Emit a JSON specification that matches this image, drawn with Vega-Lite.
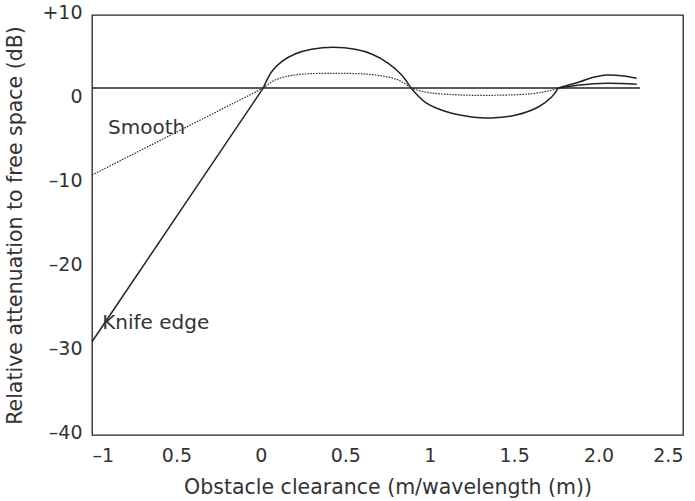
{
  "$schema": "https://vega.github.io/schema/vega-lite/v6.json",
  "width": 591,
  "height": 420,
  "autosize": {"type": "none"},
  "padding": {"left": 92, "top": 15, "right": 12, "bottom": 66},
  "background": "white",
  "config": {
    "view": {"stroke": "#222", "strokeWidth": 1.3},
    "axis": {
      "grid": false, "ticks": false, "domain": false,
      "labelFont": "DejaVu Sans", "labelFontSize": 19, "labelColor": "#333",
      "titleFont": "DejaVu Sans", "titleFontSize": 20.5, "titleColor": "#333", "titleFontWeight": "normal"
    }
  },
  "datasets": {
    "lines": [
      {"curve": "free space", "segment": 1, "dash": "solid", "x": -1, "y": 1.3},
      {"curve": "free space", "segment": 1, "dash": "solid", "x": 2.245, "y": 1.3},

      {"curve": "knife", "segment": 1, "dash": "solid", "x": -1, "y": -28.9},
      {"curve": "knife", "segment": 1, "dash": "solid", "x": 0.014, "y": 1.3},

      {"curve": "knife", "segment": 2, "dash": "solid", "x": 0.014, "y": 1.3},
      {"curve": "knife", "segment": 2, "dash": "solid", "x": 0.064, "y": 3.25},
      {"curve": "knife", "segment": 2, "dash": "solid", "x": 0.123, "y": 4.44},
      {"curve": "knife", "segment": 2, "dash": "solid", "x": 0.202, "y": 5.36},
      {"curve": "knife", "segment": 2, "dash": "solid", "x": 0.301, "y": 5.92},
      {"curve": "knife", "segment": 2, "dash": "solid", "x": 0.429, "y": 6.15},
      {"curve": "knife", "segment": 2, "dash": "solid", "x": 0.558, "y": 5.92},
      {"curve": "knife", "segment": 2, "dash": "solid", "x": 0.656, "y": 5.36},
      {"curve": "knife", "segment": 2, "dash": "solid", "x": 0.755, "y": 4.25},
      {"curve": "knife", "segment": 2, "dash": "solid", "x": 0.834, "y": 2.86},
      {"curve": "knife", "segment": 2, "dash": "solid", "x": 0.889, "y": 1.3},

      {"curve": "knife", "segment": 3, "dash": "solid", "x": 0.889, "y": 1.3},
      {"curve": "knife", "segment": 3, "dash": "solid", "x": 0.972, "y": -0.36},
      {"curve": "knife", "segment": 3, "dash": "solid", "x": 1.091, "y": -1.46},
      {"curve": "knife", "segment": 3, "dash": "solid", "x": 1.249, "y": -2.14},
      {"curve": "knife", "segment": 3, "dash": "solid", "x": 1.367, "y": -2.26},
      {"curve": "knife", "segment": 3, "dash": "solid", "x": 1.505, "y": -1.94},
      {"curve": "knife", "segment": 3, "dash": "solid", "x": 1.643, "y": -0.95},
      {"curve": "knife", "segment": 3, "dash": "solid", "x": 1.722, "y": 0.24},
      {"curve": "knife", "segment": 3, "dash": "solid", "x": 1.761, "y": 1.3},

      {"curve": "knife", "segment": 4, "dash": "solid", "x": 1.761, "y": 1.3},
      {"curve": "knife", "segment": 4, "dash": "solid", "x": 1.89, "y": 2.06},
      {"curve": "knife", "segment": 4, "dash": "solid", "x": 1.969, "y": 2.58},
      {"curve": "knife", "segment": 4, "dash": "solid", "x": 2.048, "y": 2.86},
      {"curve": "knife", "segment": 4, "dash": "solid", "x": 2.146, "y": 2.74},
      {"curve": "knife", "segment": 4, "dash": "solid", "x": 2.226, "y": 2.46},

      {"curve": "smooth", "segment": 1, "dash": "dotted", "x": -1, "y": -9.05},
      {"curve": "smooth", "segment": 1, "dash": "dotted", "x": 0.014, "y": 1.3},

      {"curve": "smooth", "segment": 2, "dash": "dotted", "x": 0.014, "y": 1.3},
      {"curve": "smooth", "segment": 2, "dash": "dotted", "x": 0.084, "y": 2.26},
      {"curve": "smooth", "segment": 2, "dash": "dotted", "x": 0.202, "y": 2.86},
      {"curve": "smooth", "segment": 2, "dash": "dotted", "x": 0.439, "y": 3.06},
      {"curve": "smooth", "segment": 2, "dash": "dotted", "x": 0.676, "y": 2.86},
      {"curve": "smooth", "segment": 2, "dash": "dotted", "x": 0.814, "y": 2.26},
      {"curve": "smooth", "segment": 2, "dash": "dotted", "x": 0.889, "y": 1.3},

      {"curve": "smooth", "segment": 3, "dash": "dotted", "x": 0.889, "y": 1.3},
      {"curve": "smooth", "segment": 3, "dash": "dotted", "x": 0.972, "y": 0.83},
      {"curve": "smooth", "segment": 3, "dash": "dotted", "x": 1.15, "y": 0.51},
      {"curve": "smooth", "segment": 3, "dash": "dotted", "x": 1.367, "y": 0.44},
      {"curve": "smooth", "segment": 3, "dash": "dotted", "x": 1.604, "y": 0.63},
      {"curve": "smooth", "segment": 3, "dash": "dotted", "x": 1.722, "y": 1.04},
      {"curve": "smooth", "segment": 3, "dash": "dotted", "x": 1.761, "y": 1.3},

      {"curve": "smooth", "segment": 4, "dash": "solid", "x": 1.761, "y": 1.3},
      {"curve": "smooth", "segment": 4, "dash": "solid", "x": 1.89, "y": 1.67},
      {"curve": "smooth", "segment": 4, "dash": "solid", "x": 2.048, "y": 1.87},
      {"curve": "smooth", "segment": 4, "dash": "solid", "x": 2.226, "y": 1.75}
    ],
    "labels": [
      {"label": "Smooth", "x": -0.905, "y": -3.45},
      {"label": "Knife edge", "x": -0.94, "y": -26.67}
    ]
  },
  "layer": [
    {
      "data": {"name": "lines"},
      "transform": [{"filter": "datum.dash == 'solid'"}],
      "mark": {"type": "line", "interpolate": "catmull-rom", "color": "#222", "strokeWidth": 1.5},
      "encoding": {
        "x": {
          "field": "x", "type": "quantitative",
          "scale": {"domain": [-1, 2.5], "nice": false, "zero": false},
          "axis": {
            "values": [-1, -0.5, 0, 0.5, 1, 1.5, 2, 2.5],
            "labelExpr": "datum.value == -1 ? '–1' : datum.value == -0.5 ? '0.5' : datum.value == 2 ? '2.0' : toString(datum.value)",
            "labelPadding": 11,
            "title": "Obstacle clearance (m/wavelength (m))",
            "titlePadding": 12
          }
        },
        "y": {
          "field": "y", "type": "quantitative",
          "scale": {"domain": [-40, 10], "nice": false, "zero": false},
          "axis": {
            "values": [-40, -30, -20, -10, 0, 10],
            "labelExpr": "datum.value > 0 ? '+' + datum.value : datum.value < 0 ? '–' + abs(datum.value) : '0'",
            "labelPadding": 10,
            "labelOffset": -3,
            "title": "Relative attenuation to free space (dB)",
            "titlePadding": 16
          }
        },
        "detail": [{"field": "curve"}, {"field": "segment"}]
      }
    },
    {
      "data": {"name": "lines"},
      "transform": [{"filter": "datum.dash == 'dotted'"}],
      "mark": {"type": "line", "interpolate": "catmull-rom", "color": "#333", "strokeWidth": 1.2, "strokeDash": [1.6, 1.2]},
      "encoding": {
        "x": {"field": "x", "type": "quantitative"},
        "y": {"field": "y", "type": "quantitative"},
        "detail": [{"field": "curve"}, {"field": "segment"}]
      }
    },
    {
      "data": {"name": "labels"},
      "mark": {"type": "text", "align": "left", "baseline": "middle", "font": "DejaVu Sans", "fontSize": 20, "color": "#333"},
      "encoding": {
        "x": {"field": "x", "type": "quantitative"},
        "y": {"field": "y", "type": "quantitative"},
        "text": {"field": "label"}
      }
    }
  ]
}
